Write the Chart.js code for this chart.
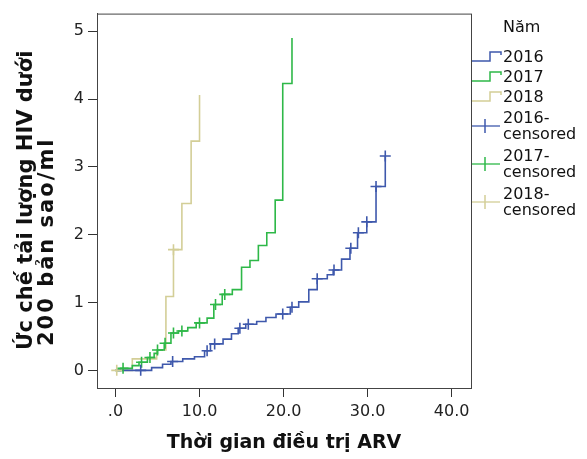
<!DOCTYPE html>
<html>
<head>
<meta charset="utf-8">
<script src="https://cdn.jsdelivr.net/npm/chart.js@4.4.1/dist/chart.umd.min.js"></script>
<style>
  body { margin: 0; background: #fff; }
  #wrap { position: relative; width: 587px; height: 459px; font-family: "DejaVu Sans", sans-serif; }
  #legend { position: absolute; left: 472px; top: 19px; color: #111; font-size: 16px; line-height: 16px; }
  #legend .title { margin-left: 31px; margin-bottom: 12px; }
  #legend .row { display: flex; align-items: center; padding: 2px 0; }
  #legend .row.two { padding: 3px 0; }
  #legend svg { width: 31px; height: 16px; flex: none; }
  #legend .lbl { width: 80px; }
</style>
</head>
<body>
<div id="wrap">
  <canvas id="kmChart" width="587" height="459"></canvas>
  <div id="legend"></div>
</div>
<script>
// groups and their colours
const years = ['2016', '2017', '2018'];
const colors = ['#3E58AC', '#2EB848', '#D3CE97'];

// step times (months) and cumulative value after each step
const t2016 = [0, 4.3, 5.6, 6.6, 8.0, 9.4, 10.6, 11.3, 12.8, 13.8, 14.6, 15.5, 16.8, 17.9, 19.1, 20.8, 21.8, 23.0, 24.0, 25.2, 25.9, 26.9, 27.9, 28.8, 29.9, 31.0, 32.1];
const v2016 = [0, 0.04, 0.09, 0.13, 0.17, 0.20, 0.29, 0.39, 0.46, 0.54, 0.62, 0.68, 0.72, 0.78, 0.83, 0.93, 1.01, 1.19, 1.35, 1.41, 1.48, 1.64, 1.80, 2.03, 2.19, 2.71, 3.16];
const t2017 = [0, 0.6, 2.0, 2.8, 3.8, 4.6, 5.0, 5.8, 6.6, 7.5, 8.6, 9.6, 10.9, 11.7, 12.7, 13.9, 15.0, 16.0, 17.0, 18.0, 19.0, 19.9, 21.0];
const v2017 = [0, 0.03, 0.07, 0.12, 0.19, 0.25, 0.30, 0.40, 0.55, 0.58, 0.63, 0.70, 0.77, 0.97, 1.12, 1.19, 1.52, 1.62, 1.84, 2.03, 2.51, 4.23, 4.90];
const t2018 = [0, 2.0, 4.9, 6.0, 6.9, 7.9, 9.0, 10.0];
const v2018 = [0, 0.17, 0.30, 1.09, 1.78, 2.46, 3.38, 4.06];

// censored observations
const ct2016 = [3.0, 6.8, 10.9, 11.8, 14.8, 15.8, 19.9, 21.0, 24.0, 26.0, 28.0, 28.9, 29.9, 31.0, 32.1];
const cv2016 = [0, 0.13, 0.29, 0.39, 0.62, 0.68, 0.83, 0.93, 1.35, 1.48, 1.80, 2.03, 2.19, 2.71, 3.16];
const ct2017 = [0.9, 3.1, 4.1, 5.0, 5.9, 6.9, 7.9, 10.0, 11.9, 13.0];
const cv2017 = [0.03, 0.12, 0.19, 0.30, 0.40, 0.55, 0.58, 0.70, 0.97, 1.12];
const ct2018 = [0.15, 6.9];
const cv2018 = [0, 1.78];

const xTicks = [0, 10, 20, 30, 40];
const yTicks = [0, 1, 2, 3, 4, 5];
const xTitle = 'Thời gian điều trị ARV';
const yTitle = ['Ức chế tải lượng HIV dưới', '200 bản sao/ml'];
const legendTitle = 'Năm';

const steps = [[t2016, v2016], [t2017, v2017], [t2018, v2018]];
const censored = [[ct2016, cv2016], [ct2017, cv2017], [ct2018, cv2018]];
const pts = (xs, ys) => xs.map((x, i) => ({ x: x, y: ys[i] }));

const datasets = [];
years.forEach((yr, i) => {
    datasets.push({
        label: yr,
        data: pts(steps[i][0], steps[i][1]),
        showLine: true,
        stepped: true,
        borderColor: colors[i],
        borderWidth: 1.6,
        pointRadius: 0,
        order: 10 + i
    });
});
years.forEach((yr, i) => {
    datasets.push({
        label: yr + '-censored',
        data: pts(censored[i][0], censored[i][1]),
        showLine: false,
        pointStyle: 'cross',
        pointRadius: 5.5,
        borderWidth: 1.6,
        borderColor: colors[i],
        backgroundColor: colors[i],
        order: i
    });
});

const frame = {
    id: 'frame',
    afterDraw(chart) {
        const { ctx, chartArea: a } = chart;
        ctx.save();
        ctx.strokeStyle = '#444';
        ctx.lineWidth = 1;
        ctx.strokeRect(a.left + 0.5, a.top + 0.5, a.right - a.left, a.bottom - a.top);
        // y axis title, two lines starting from the same end
        ctx.fillStyle = '#111';
        ctx.font = 'bold 21px "DejaVu Sans"';
        ctx.textBaseline = 'middle';
        ctx.textAlign = 'left';
        [[27, 350, '0px'], [48, 346, '2px']].forEach((p, k) => {
            ctx.save();
            ctx.translate(p[0], p[1]);
            ctx.rotate(-Math.PI / 2);
            ctx.letterSpacing = p[2];
            ctx.fillText(yTitle[k], 0, 0);
            ctx.restore();
        });
        ctx.restore();
    }
};

new Chart(document.getElementById('kmChart'), {
    type: 'scatter',
    data: { datasets: datasets },
    options: {
        responsive: false,
        animation: false,
        devicePixelRatio: 1,
        layout: { padding: { top: 7, right: 116, left: 0, bottom: 0 } },
        plugins: { legend: { display: false }, tooltip: { enabled: false } },
        scales: {
            x: {
                type: 'linear',
                min: -2.2,
                max: 42.3,
                afterBuildTicks: s => { s.ticks = xTicks.map(v => ({ value: v })); },
                afterFit: s => { s.height = 71; },
                ticks: {
                    color: '#222',
                    padding: 5,
                    font: { family: 'DejaVu Sans', size: 16 },
                    callback: v => v === 0 ? '.0' : v.toFixed(1)
                },
                grid: { drawOnChartArea: false, tickLength: 9, color: '#333' },
                border: { display: true, color: '#444' },
                title: {
                    display: true,
                    text: xTitle,
                    color: '#111',
                    font: { family: 'DejaVu Sans', size: 19, weight: 'bold' },
                    padding: { top: 0, bottom: 5 }
                }
            },
            y: {
                type: 'linear',
                min: -0.26,
                max: 5.26,
                afterBuildTicks: s => { s.ticks = yTicks.map(v => ({ value: v })); },
                afterFit: s => { s.width = 97; },
                ticks: {
                    color: '#222',
                    padding: 4,
                    font: { family: 'DejaVu Sans', size: 16 }
                },
                grid: { drawOnChartArea: false, tickLength: 9, color: '#333' },
                border: { display: true, color: '#444' }
            }
        }
    },
    plugins: [frame]
});

// legend: step icons for the curves, crosses for censored marks
const legend = document.getElementById('legend');
let html = '<div class="title">' + legendTitle + '</div>';
years.forEach((yr, i) => {
    html += '<div class="row"><svg viewBox="0 0 31 16"><polyline points="0,12 18,12 18,3 29,3 29,6" fill="none" stroke="' +
        colors[i] + '" stroke-width="1.5"/></svg><span class="lbl">' + yr + '</span></div>';
});
years.forEach((yr, i) => {
    html += '<div class="row two"><svg viewBox="0 0 31 16"><line x1="0" y1="8" x2="28" y2="8" stroke="' + colors[i] +
        '" stroke-width="1.3"/><line x1="13" y1="1" x2="13" y2="15" stroke="' + colors[i] +
        '" stroke-width="1.5"/></svg><span class="lbl">' + yr + '-<br>censored</span></div>';
});
legend.innerHTML = html;
</script>
</body>
</html>
